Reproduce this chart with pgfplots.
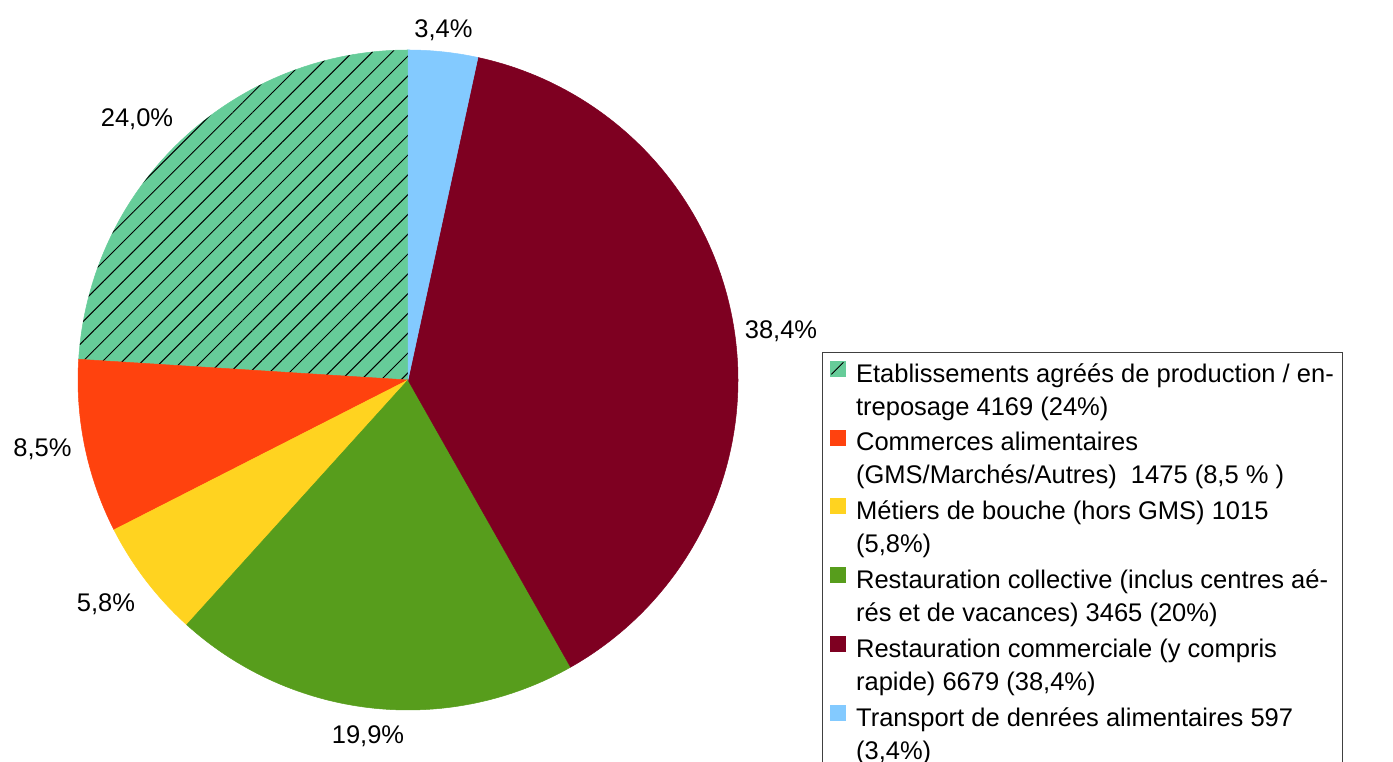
\documentclass[border=0pt]{standalone}
\usepackage{pgfplots}
\pgfplotsset{compat=1.18}
\usetikzlibrary{patterns.meta}
\usepackage{fontspec}
\setmainfont{Liberation Sans}
\definecolor{cEtab}{HTML}{66CC99}
\definecolor{cComm}{HTML}{FF420E}
\definecolor{cMet}{HTML}{FFD320}
\definecolor{cColl}{HTML}{579D1C}
\definecolor{cRest}{HTML}{7E0021}
\definecolor{cTrans}{HTML}{83CAFF}
\begin{document}
\begin{tikzpicture}[x=1bp,y=1bp]
\path[use as bounding box, clip] (0,0) rectangle (1393,761);
% shares in percent, clockwise from the top
\def\pTrans{3.4}\def\pRest{38.4}\def\pColl{19.9}\def\pMet{5.8}\def\pComm{8.5}\def\pEtab{24.0}
\pgfmathsetmacro\aA{90}
\pgfmathsetmacro\aB{\aA-3.6*\pTrans}
\pgfmathsetmacro\aC{\aB-3.6*\pRest}
\pgfmathsetmacro\aD{\aC-3.6*\pColl}
\pgfmathsetmacro\aE{\aD-3.6*\pMet}
\pgfmathsetmacro\aF{\aE-3.6*\pComm}
\pgfmathsetmacro\aG{\aF-3.6*\pEtab}
\begin{axis}[
  hide axis, anchor=south west, at={(0,0)},
  x=330bp, y=330bp,
  xmin=-1.236364, xmax=2.984848, ymin=-1.154545, ymax=1.151515,
  enlargelimits=false, clip=false,
  legend style={at={(0.5901,0.5374)}, anchor=north west,
    draw=black!75, line width=1.2bp,
    font=\fontsize{25.5bp}{33bp}\selectfont,
    cells={anchor=west, align=left},
    inner xsep=7bp, inner ysep=8bp, row sep=11bp},
  legend cell align=left,
  legend image code/.code={\path[#1, line width=0.5bp] (0bp,14bp) rectangle (15bp,29bp); \path (24bp,20bp);},
]
\addplot[fill=cEtab, draw=cEtab, line width=0.5bp,
  legend image code/.code={\fill[cEtab] (0bp,14bp) rectangle (15bp,29bp); \draw[black, line width=1bp] (1.5bp,15.5bp) -- (13.5bp,27.5bp); \path (24bp,20bp);},
  domain=\aF:\aG, samples=80] ({cos(x)},{sin(x)}) -- (axis cs:0,0) -- cycle;
\addlegendentry{Etablissements agréés de production / en-\\treposage 4169 (24\%)}
\addplot[forget plot, draw=none, pattern={Lines[angle=45,distance=14bp,line width=1bp]}, pattern color=black,
  domain=\aF:\aG, samples=80] ({cos(x)},{sin(x)}) -- (axis cs:0,0) -- cycle;
\addplot[fill=cComm, draw=cComm, line width=0.5bp, domain=\aE:\aF, samples=40] ({cos(x)},{sin(x)}) -- (axis cs:0,0) -- cycle;
\addlegendentry{Commerces alimentaires\\(GMS/Marchés/Autres)\ \ 1475 (8,5 \% )}
\addplot[fill=cMet, draw=cMet, line width=0.5bp, domain=\aD:\aE, samples=30] ({cos(x)},{sin(x)}) -- (axis cs:0,0) -- cycle;
\addlegendentry{Métiers de bouche (hors GMS) 1015\\(5,8\%)}
\addplot[fill=cColl, draw=cColl, line width=0.5bp, domain=\aC:\aD, samples=80] ({cos(x)},{sin(x)}) -- (axis cs:0,0) -- cycle;
\addlegendentry{Restauration collective (inclus centres aé-\\rés et de vacances) 3465 (20\%)}
\addplot[fill=cRest, draw=cRest, line width=0.5bp, domain=\aB:\aC, samples=120] ({cos(x)},{sin(x)}) -- (axis cs:0,0) -- cycle;
\addlegendentry{Restauration commerciale (y compris\\rapide) 6679 (38,4\%)}
\addplot[fill=cTrans, draw=cTrans, line width=0.5bp, domain=\aA:\aB, samples=20] ({cos(x)},{sin(x)}) -- (axis cs:0,0) -- cycle;
\addlegendentry{Transport de denrées alimentaires 597\\(3,4\%)}
\end{axis}
\begin{scope}[every node/.style={font=\fontsize{25.5bp}{32bp}\selectfont, anchor=base, inner sep=0pt}]
\node at (443.5,723) {3,4\%};
\node at (781,422) {38,4\%};
\node at (368,18) {19,9\%};
\node at (106,149) {5,8\%};
\node at (42.5,304) {8,5\%};
\node at (137,634) {24,0\%};
\end{scope}
\end{tikzpicture}
\end{document}
